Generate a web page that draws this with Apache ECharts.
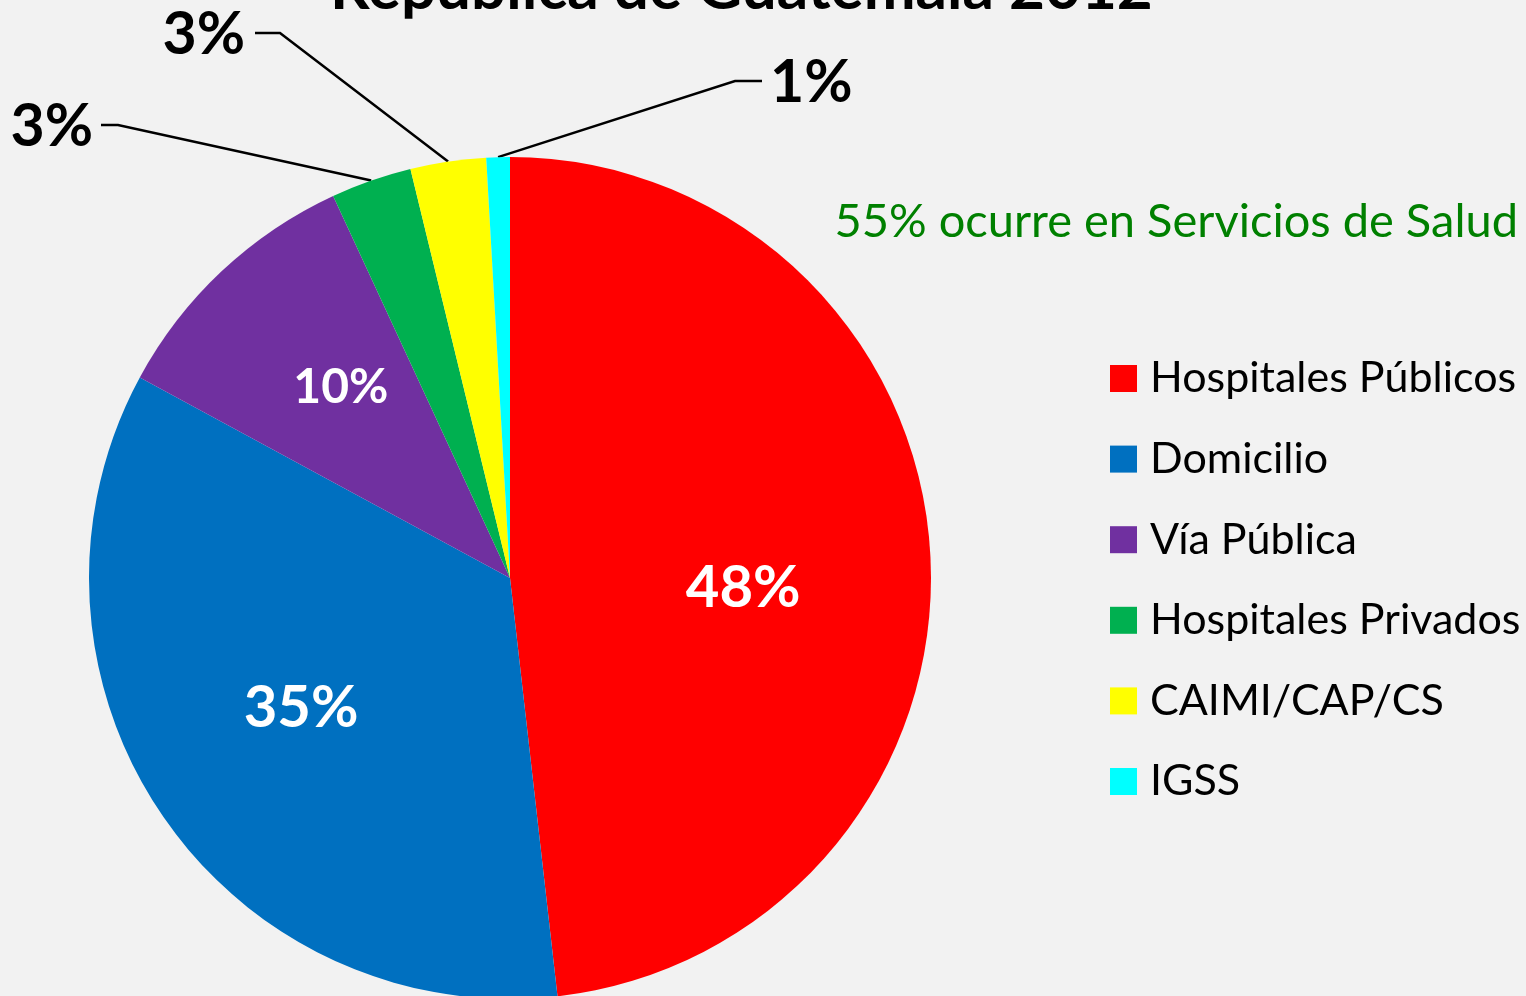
<!DOCTYPE html>
<html>
<head>
<meta charset="utf-8">
<title>República de Guatemala 2012</title>
<script src="https://cdn.jsdelivr.net/npm/echarts@6/dist/echarts.min.js"></script>
<style>
  html, body { margin: 0; padding: 0; background: #f2f2f2; }
  #chart { width: 1526px; height: 996px; }
</style>
</head>
<body>
<div id="chart"></div>
<script>
const categories = ['Hospitales Públicos', 'Domicilio', 'Vía Pública', 'Hospitales Privados', 'CAIMI/CAP/CS', 'IGSS']
const shares = [48.2, 34.7, 10.2, 3.1, 2.9, 0.9]
const titleText = 'República de Guatemala 2012'
const noteText = '55% ocurre en Servicios de Salud'

const COLORS = ['#ff0000', '#0070c0', '#7030a0', '#00b050', '#ffff00', '#00ffff']
const FONT = 'Lato, "Noto Sans", sans-serif'

// small slices: label outside with a leader line (label anchor, horizontal run)
const OUTSIDE = {
  'Hospitales Privados': { x: 93, y: 127, align: 'right', gap: 8, run: 25 },
  'CAIMI/CAP/CS': { x: 245, y: 35, align: 'right', gap: 10, run: 35 },
  'IGSS': { x: 770, y: 83, align: 'left', gap: 8, run: 35 }
}
// Excel sits the inside labels a bit further out than echarts does
const INSIDE_NUDGE = {
  'Hospitales Públicos': [20, 22],
  'Domicilio': [-32, 11],
  'Vía Pública': [-23, -35]
}

const chart = echarts.init(document.getElementById('chart'))

const pieData = categories.map((name, i) => {
  const item = { name, value: shares[i], itemStyle: { color: COLORS[i] } }
  if (OUTSIDE[name]) {
    item.label = { position: 'outside', color: '#000', fontSize: 59 }
    item.labelLine = { show: true, lineStyle: { color: '#000', width: 2.5 } }
  } else if (name === 'Vía Pública') {
    item.label = { fontSize: 48 }
  }
  return item
})

chart.setOption({
  backgroundColor: '#f2f2f2',
  animation: false,
  title: [{
    text: titleText,
    left: 325, top: -47,
    textStyle: { fontFamily: FONT, fontSize: 62, fontWeight: 'bold', color: '#000' }
  }, {
    text: noteText,
    right: 3, top: 193,
    textStyle: { fontFamily: FONT, fontSize: 47, fontWeight: 'normal', color: '#008000' }
  }],
  legend: {
    orient: 'vertical',
    left: 1105, top: 352,
    padding: 5,
    itemWidth: 27, itemHeight: 27, itemGap: 37.6,
    icon: 'rect',
    data: categories,
    textStyle: { fontFamily: FONT, fontSize: 43, lineHeight: 43, color: '#000', padding: [0, 0, 0, 8] }
  },
  series: [{
    type: 'pie',
    center: [510, 578],
    radius: 421,
    startAngle: 90,
    clockwise: true,
    silent: true,
    data: pieData,
    label: {
      show: true,
      position: 'inside',
      fontFamily: FONT,
      fontSize: 58,
      fontWeight: 'bold',
      color: '#fff',
      formatter: p => Math.round(p.percent) + '%'
    },
    labelLine: { show: false },
    labelLayout: params => {
      const name = categories[params.dataIndex]
      const o = OUTSIDE[name]
      if (o) {
        const dir = o.align === 'right' ? 1 : -1
        const ly = o.y - 2
        const pts = params.labelLinePoints
        const res = { x: o.x, y: o.y, align: o.align, verticalAlign: 'middle' }
        if (pts) res.labelLinePoints = [pts[0], [o.x + dir * o.run, ly], [o.x + dir * o.gap, ly]]
        return res
      }
      const n = INSIDE_NUDGE[name]
      return n ? { dx: n[0], dy: n[1] } : {}
    }
  }]
})
</script>
</body>
</html>
